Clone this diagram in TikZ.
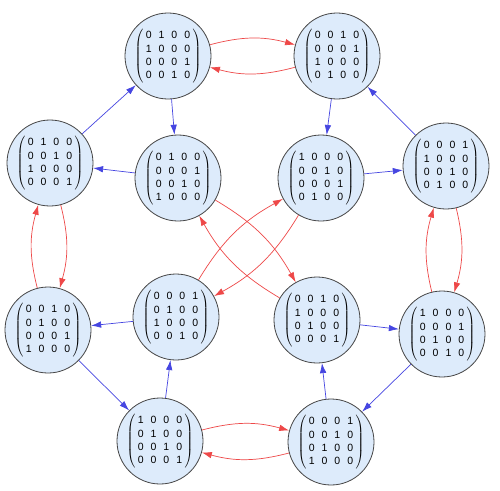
\documentclass[tikz,border=0pt]{standalone}
\usepackage{fontspec}
\setmainfont{Liberation Sans}
\usetikzlibrary{arrows.meta}
\definecolor{nodefill}{RGB}{221,235,251}
\definecolor{nodedraw}{RGB}{70,70,70}
\definecolor{eblue}{RGB}{70,70,225}
\definecolor{ered}{RGB}{238,72,72}
\newcommand{\pmat}[4]{$\left(\vcenter{\hbox{\setlength{\tabcolsep}{3.5pt}\begin{tabular}{@{\hspace{2.5pt}}cccc@{\hspace{2.5pt}}}#1\\#2\\#3\\#4\end{tabular}}}\right)$}
\tikzset{
  perm/.style={circle, draw=nodedraw, line width=0.8pt, fill=nodefill, minimum size=86pt, inner sep=0pt, font=\fontsize{10.5}{13.3}\selectfont},
  blueedge/.style={draw=eblue, line width=0.7pt, -{Latex[length=10pt,width=6.5pt]}},
  rededge/.style={draw=ered, line width=0.7pt, -{Latex[length=10pt,width=6.5pt]}},
}
\begin{document}
\begin{tikzpicture}[x=1pt,y=-1pt]
\useasboundingbox[fill=white] (0,0) rectangle (500,490);
\node[perm] (n1) at (168,56) {\pmat{0&1&0&0}{1&0&0&0}{0&0&0&1}{0&0&1&0}};
\node[perm] (n2) at (337,56) {\pmat{0&0&1&0}{0&0&0&1}{1&0&0&0}{0&1&0&0}};
\node[perm] (n3) at (50,163) {\pmat{0&1&0&0}{0&0&1&0}{1&0&0&0}{0&0&0&1}};
\node[perm] (n4) at (178,178) {\pmat{0&1&0&0}{0&0&0&1}{0&0&1&0}{1&0&0&0}};
\node[perm] (n5) at (321,178) {\pmat{1&0&0&0}{0&0&1&0}{0&0&0&1}{0&1&0&0}};
\node[perm] (n6) at (446,166) {\pmat{0&0&0&1}{1&0&0&0}{0&0&1&0}{0&1&0&0}};
\node[perm] (n7) at (48,330) {\pmat{0&0&1&0}{0&1&0&0}{0&0&0&1}{1&0&0&0}};
\node[perm] (n8) at (176,317) {\pmat{0&0&0&1}{0&1&0&0}{1&0&0&0}{0&0&1&0}};
\node[perm] (n9) at (317,320) {\pmat{0&0&1&0}{1&0&0&0}{0&1&0&0}{0&0&0&1}};
\node[perm] (n10) at (442,334) {\pmat{1&0&0&0}{0&0&0&1}{0&1&0&0}{0&0&1&0}};
\node[perm] (n11) at (160,441) {\pmat{1&0&0&0}{0&1&0&0}{0&0&1&0}{0&0&0&1}};
\node[perm] (n12) at (331,442) {\pmat{0&0&0&1}{0&0&1&0}{0&1&0&0}{1&0&0&0}};
% blue edges
\draw[blueedge] (n3) -- (n1);
\draw[blueedge] (n1) -- (n4);
\draw[blueedge] (n4) -- (n3);
\draw[blueedge] (n2) -- (n5);
\draw[blueedge] (n5) -- (n6);
\draw[blueedge] (n6) -- (n2);
\draw[blueedge] (n7) -- (n11);
\draw[blueedge] (n11) -- (n8);
\draw[blueedge] (n8) -- (n7);
\draw[blueedge] (n10) -- (n12);
\draw[blueedge] (n12) -- (n9);
\draw[blueedge] (n9) -- (n10);
% red edges
\draw[rededge] (n1) to[bend left=15] (n2);
\draw[rededge] (n2) to[bend left=15] (n1);
\draw[rededge] (n3) to[bend left=15] (n7);
\draw[rededge] (n7) to[bend left=15] (n3);
\draw[rededge] (n6) to[bend left=15] (n10);
\draw[rededge] (n10) to[bend left=15] (n6);
\draw[rededge] (n11) to[bend left=15] (n12);
\draw[rededge] (n12) to[bend left=15] (n11);
\draw[rededge] (n4) to[bend left=15] (n9);
\draw[rededge] (n9) to[bend left=15] (n4);
\draw[rededge] (n5) to[bend left=15] (n8);
\draw[rededge] (n8) to[bend left=15] (n5);
\end{tikzpicture}
\end{document}
